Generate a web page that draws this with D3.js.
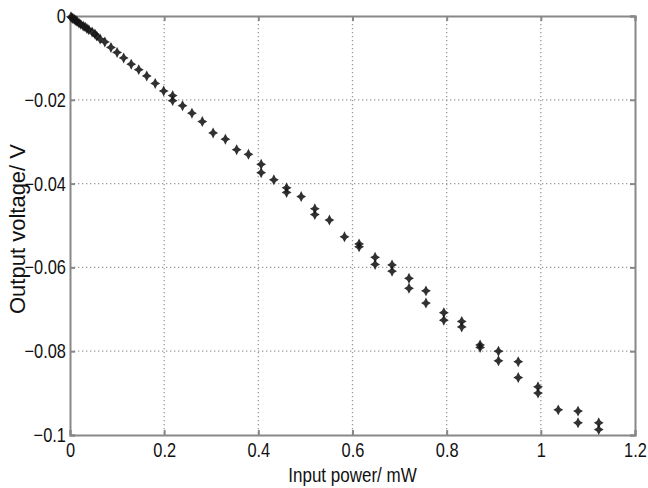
<!DOCTYPE html>
<html>
<head>
<meta charset="utf-8">
<style>
  body { margin: 0; background: #fff; }
  svg { display: block; }
  text { font-family: "Liberation Sans", Arial, sans-serif; fill: #111; }
</style>
</head>
<body>
<div id="chart"></div>
<script src="https://d3js.org/d3.v7.min.js"></script>
<script>
    // readings
    const power = [0.002, 0.004, 0.006, 0.0085, 0.011, 0.013, 0.015, 0.019, 0.023, 0.028, 0.032, 0.036, 0.040, 0.047, 0.053, 0.057, 0.064,
                   0.074, 0.087, 0.100, 0.114, 0.130, 0.146, 0.163, 0.181, 0.199, 0.218, 0.218, 0.239, 0.259, 0.281, 0.304, 0.330,
                   0.354, 0.379, 0.406, 0.406, 0.433, 0.460, 0.460, 0.491, 0.520, 0.520, 0.551, 0.583, 0.614, 0.614, 0.648, 0.648,
                   0.684, 0.684, 0.720, 0.720, 0.756, 0.756, 0.794, 0.794, 0.832, 0.832, 0.871, 0.871, 0.910, 0.910, 0.952, 0.952,
                   0.994, 0.994, 1.037, 1.079, 1.079, 1.123, 1.123]
    const voltage = [-0.0002, -0.0004, -0.0006, -0.0007, -0.0010, -0.0011, -0.0013, -0.0017, -0.0020, -0.0024, -0.0026, -0.0030, -0.0033, -0.0038, -0.0043, -0.0048, -0.0055,
                     -0.0062, -0.0075, -0.0087, -0.0100, -0.0115, -0.0128, -0.0143, -0.0161, -0.0179, -0.0190, -0.0202, -0.0214, -0.0232, -0.0252, -0.0279, -0.0294,
                     -0.0319, -0.0330, -0.0354, -0.0374, -0.0391, -0.0410, -0.0421, -0.0431, -0.0460, -0.0474, -0.0487, -0.0527, -0.0544, -0.0551, -0.0576, -0.0593,
                     -0.0594, -0.0609, -0.0626, -0.0650, -0.0656, -0.0685, -0.0708, -0.0726, -0.0729, -0.0742, -0.0785, -0.0791, -0.0800, -0.0823, -0.0825, -0.0863,
                     -0.0885, -0.0900, -0.0940, -0.0943, -0.0971, -0.0971, -0.0987]
    const xTicks = [0, 0.2, 0.4, 0.6, 0.8, 1, 1.2]
    const yTicks = [0, -0.02, -0.04, -0.06, -0.08, -0.1]

    const W = 648, H = 488
    const mLeft = 70, mTop = 16, mRight = 635, mBottom = 435

    const svg = d3.select('#chart')
                  .append('svg')
                  .attr('width', W)
                  .attr('height', H)

    const xScale = d3.scaleLinear().domain([0, 1.2]).range([mLeft, mRight])
    const yScale = d3.scaleLinear().domain([-0.1, 0]).range([mBottom, mTop])

    // dotted grid
    const grid = svg.append('g')
    grid.selectAll('.vg')
        .data(xTicks.slice(1, -1))
        .join('line')
        .attr('x1', d => xScale(d)).attr('x2', d => xScale(d))
        .attr('y1', mTop).attr('y2', mBottom)
        .attr('stroke', '#999').attr('stroke-width', 1.3)
        .attr('stroke-dasharray', '1.3,2.7')
    grid.selectAll('.hg')
        .data(yTicks.slice(1, -1))
        .join('line')
        .attr('y1', d => yScale(d)).attr('y2', d => yScale(d))
        .attr('x1', mLeft).attr('x2', mRight)
        .attr('stroke', '#999').attr('stroke-width', 1.3)
        .attr('stroke-dasharray', '1.3,2.7')

    // axes (ticks pointing inward)
    const fmt = d => d3.format('')(+d.toFixed(2))
    svg.append('g')
       .attr('transform', `translate(0,${mBottom})`)
       .call(d3.axisBottom(xScale).tickValues(xTicks).tickSize(-5).tickPadding(8).tickFormat(fmt))
    svg.append('g')
       .attr('transform', `translate(0,${mTop})`)
       .call(d3.axisTop(xScale).tickValues(xTicks).tickSize(-5).tickFormat(''))
    svg.append('g')
       .attr('transform', `translate(${mLeft},0)`)
       .call(d3.axisLeft(yScale).tickValues(yTicks).tickSize(-5).tickPadding(5).tickFormat(fmt))
    svg.append('g')
       .attr('transform', `translate(${mRight},0)`)
       .call(d3.axisRight(yScale).tickValues(yTicks).tickSize(-5).tickFormat(''))

    svg.selectAll('.domain').attr('stroke', '#888').attr('stroke-width', 2)
    svg.selectAll('.tick line').attr('stroke', '#888').attr('stroke-width', 2)
    // narrow-looking tick labels like the original
    svg.selectAll('.tick text')
       .style('font-family', '"Liberation Sans", Arial, sans-serif')
       .style('font-size', '20px')
       .attr('fill', '#111')
       .attr('transform', 'scale(0.82,1)')

    // 4-point star marker, like the blurred "+" in the figure
    const star4 = {
      draw(ctx, size) {
        const r = Math.sqrt(size), w = r * 0.34
        ctx.moveTo(0, -r)
        ctx.lineTo(w, -w)
        ctx.lineTo(r * 0.9, 0)
        ctx.lineTo(w, w)
        ctx.lineTo(0, r)
        ctx.lineTo(-w, w)
        ctx.lineTo(-r * 0.9, 0)
        ctx.lineTo(-w, -w)
        ctx.closePath()
      }
    }
    const pts = power.map((p, i) => ({x: p, y: voltage[i]}))
    svg.append('g')
       .selectAll('path')
       .data(pts)
       .join('path')
       .attr('d', d3.symbol().type(star4).size(30))
       .attr('transform', d => `translate(${xScale(d.x)},${yScale(d.y)})`)
       .attr('fill', '#151515')
       .attr('fill-opacity', 0.88)

    // labels
    svg.append('text')
       .attr('transform', `translate(${(mLeft + mRight) / 2},482) scale(0.81,1)`)
       .attr('text-anchor', 'middle')
       .style('font-size', '21px')
       .text('Input power/ mW')
    svg.append('text')
       .attr('transform', `translate(25,229) rotate(-90)`)
       .attr('text-anchor', 'middle')
       .style('font-size', '22px')
       .text('Output voltage/ V')
</script>
</body>
</html>
